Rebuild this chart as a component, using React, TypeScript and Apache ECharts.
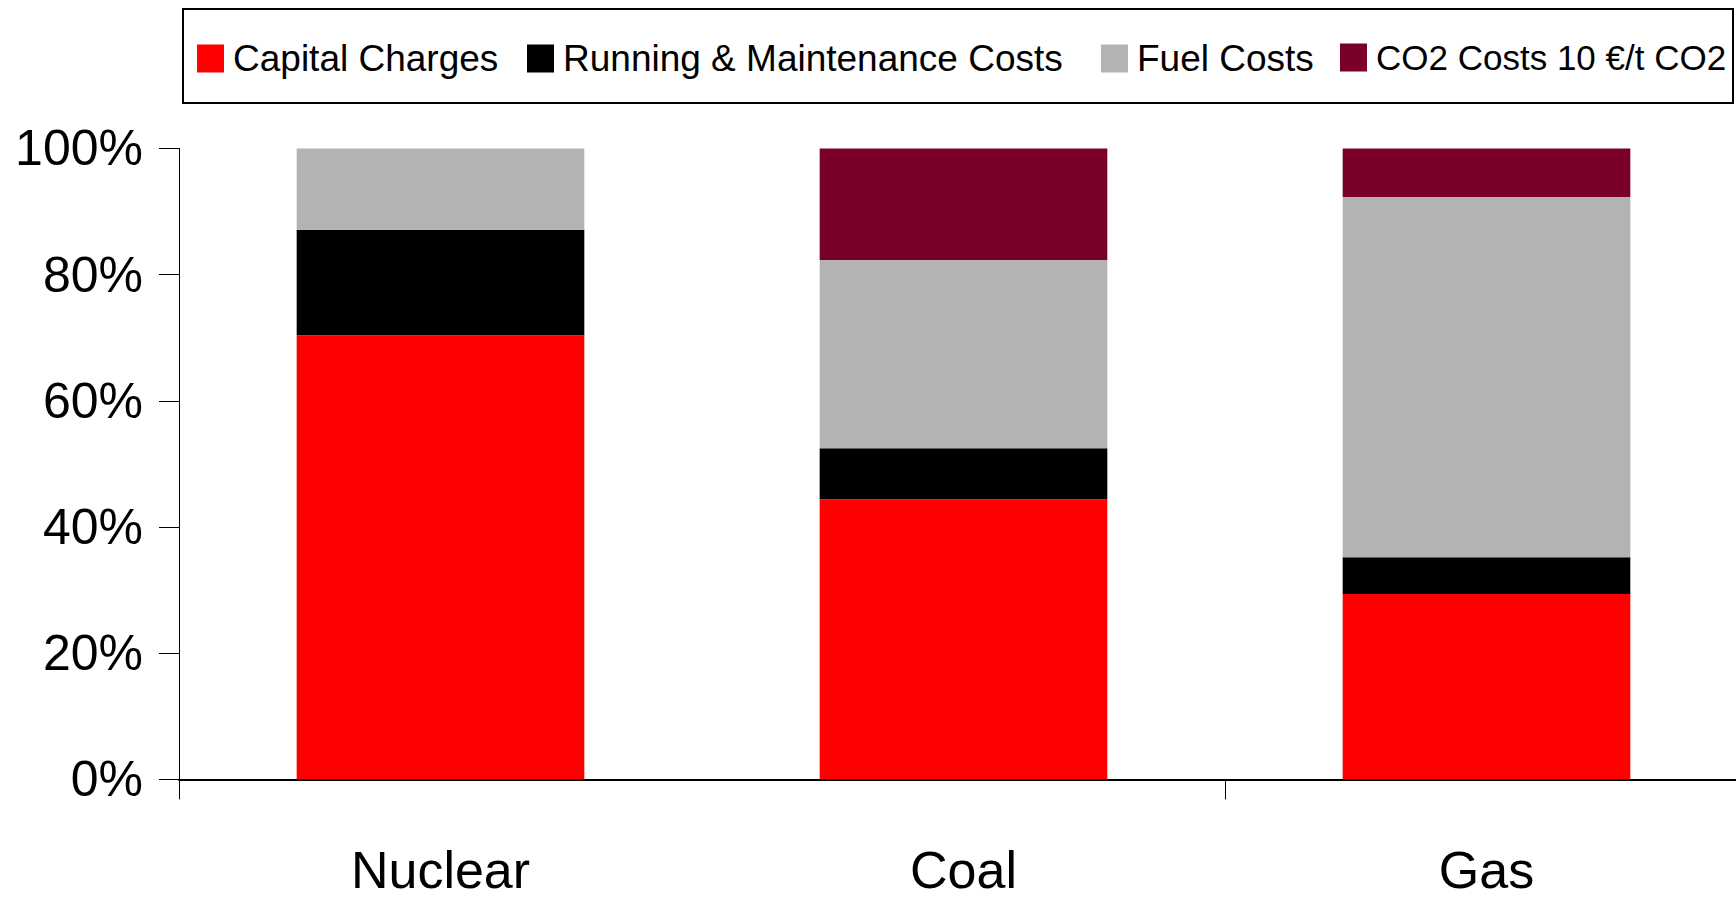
import React, { useEffect, useRef } from "react";
import * as echarts from "echarts";

const categories = ["Nuclear", "Coal", "Gas"];
const seriesNames = [
  "Capital Charges",
  "Running & Maintenance Costs",
  "Fuel Costs",
  "CO2 Costs 10 €/t CO2",
];
const capitalCharges = [70.4, 44.4, 29.4];
const runningMaintenance = [16.7, 8.1, 5.8];
const fuelCosts = [12.9, 29.8, 57.1];
const co2Costs = [0, 17.7, 7.7];
const seriesColors = ["#FF0000", "#000000", "#B3B3B3", "#7B0028"];
const legendLefts = [197, 527, 1101, 1340];
const legendFontSizes = [37, 37, 37, 35];

export default function App() {
  const ref = useRef<HTMLDivElement>(null);
  useEffect(() => {
    if (!ref.current) return;
    const chart = echarts.init(ref.current, null, { renderer: "svg" });
    const values = [capitalCharges, runningMaintenance, fuelCosts, co2Costs];
    const font = "Liberation Sans, Arial, sans-serif";
    chart.setOption({
      animation: false,
      backgroundColor: "#FFFFFF",
      textStyle: { fontFamily: font, color: "#000" },
      graphic: [
        {
          type: "rect",
          shape: { x: 183, y: 9, width: 1550, height: 94 },
          style: { fill: "none", stroke: "#000", lineWidth: 2 },
          z: 100,
        },
      ],
      legend: seriesNames.map((n, i) => ({
        data: [n],
        left: legendLefts[i],
        top: 40,
        itemWidth: 27,
        itemHeight: 28,
        padding: 0,
        itemGap: 0,
        icon: "rect",
        textStyle: {
          fontSize: legendFontSizes[i],
          color: "#000",
          fontFamily: font,
          padding: [0, 0, 0, 4],
        },
        selectedMode: false,
      })),
      grid: { left: 179, right: 12, top: 148.4, height: 631, containLabel: false },
      xAxis: {
        type: "category",
        data: categories,
        axisLine: { show: true, lineStyle: { color: "#000", width: 2 } },
        axisTick: { show: true, length: 20, interval: 1, lineStyle: { color: "#000", width: 1 } },
        axisLabel: {
          fontSize: 52,
          lineHeight: 50,
          color: "#000",
          margin: 66,
          interval: 0,
          fontFamily: font,
        },
        splitLine: { show: false },
      },
      yAxis: {
        type: "value",
        min: 0,
        max: 100,
        interval: 20,
        axisLine: { show: true, lineStyle: { color: "#000", width: 1 } },
        axisTick: { show: true, length: 20, lineStyle: { color: "#000", width: 1 } },
        axisLabel: { formatter: "{value}%", fontSize: 50, color: "#000", margin: 36, fontFamily: font },
        splitLine: { show: false },
      },
      series: seriesNames.map((n, i) => ({
        name: n,
        type: "bar",
        stack: "total",
        barWidth: "55%",
        data: values[i],
        itemStyle: { color: seriesColors[i] },
      })),
    });
    return () => chart.dispose();
  }, []);
  return (
    <div
      style={{
        position: "absolute",
        left: 0,
        top: 0,
        width: 1736,
        height: 898,
        overflow: "hidden",
        background: "#fff",
      }}
    >
      <div ref={ref} style={{ width: 1760, height: 898 }} />
    </div>
  );
}
